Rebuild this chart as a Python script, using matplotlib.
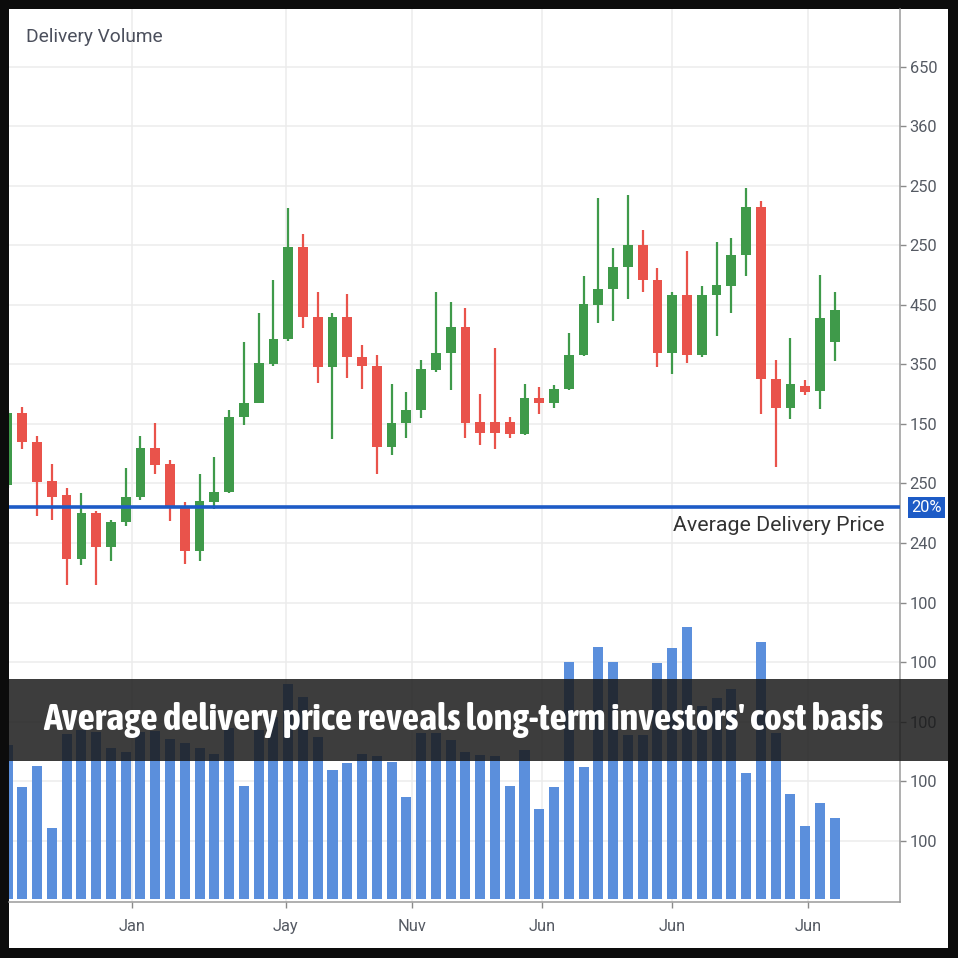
import matplotlib
matplotlib.use("Agg")
import numpy as np
from matplotlib import pyplot as plt
from matplotlib.patches import Rectangle

# weekly candles, index -1 is the one cut off at the left edge
opens = [69.8, 81.9, 77.0, 70.5, 68.0, 57.3, 65.1, 59.3, 63.5, 67.7, 75.9, 73.3, 65.8, 58.7,
         66.9, 68.6, 81.1, 83.6, 90.0, 94.3, 109.7, 98.0, 89.6, 98.0, 91.2, 89.8, 76.2, 80.1,
         82.4, 89.1, 91.9, 96.3, 80.3, 80.3, 80.3, 78.3, 84.3, 83.6, 85.8, 91.5, 100.0, 102.6,
         106.4, 110.0, 104.2, 92.0, 101.7, 91.5, 101.7, 103.2, 108.4, 116.5, 87.6, 82.6, 86.4,
         85.5, 93.7]
highs = [82.4, 82.8, 77.9, 73.2, 69.2, 68.4, 65.3, 63.9, 72.6, 77.9, 80.2, 74.0, 66.9, 71.6,
         74.5, 82.4, 93.8, 98.7, 104.1, 116.3, 111.9, 102.1, 98.6, 101.8, 93.2, 91.5, 86.7, 85.4,
         90.8, 102.1, 100.4, 99.5, 85.0, 92.8, 81.2, 86.7, 86.2, 86.6, 95.3, 104.9, 117.9, 109.6,
         118.5, 112.5, 106.2, 102.1, 109.1, 103.1, 110.5, 111.2, 119.7, 117.5, 90.8, 94.4, 87.3,
         105.0, 102.1]
lows = [69.3, 75.8, 64.5, 63.9, 53.0, 56.3, 53.0, 57.0, 62.9, 67.2, 71.6, 63.7, 56.4, 57.0,
        65.7, 68.4, 79.8, 83.5, 89.8, 94.0, 96.2, 86.8, 77.4, 87.8, 85.8, 71.6, 74.8, 77.7,
        81.0, 88.7, 85.7, 77.7, 76.4, 75.8, 77.7, 78.2, 81.6, 82.6, 85.7, 91.4, 96.9, 97.3,
        101.0, 102.2, 89.5, 88.4, 90.3, 91.2, 94.8, 98.6, 104.9, 81.7, 72.7, 80.8, 84.9,
        82.5, 90.6]
closes = [81.9, 76.9, 70.3, 67.7, 57.3, 65.1, 59.3, 63.6, 67.7, 75.9, 73.1, 66.1, 58.7, 67.1,
          68.5, 81.1, 83.6, 90.3, 94.3, 109.7, 98.0, 89.6, 98.0, 91.2, 89.8, 76.2, 80.2, 82.4,
          89.2, 91.9, 96.3, 80.1, 78.4, 78.4, 78.3, 84.3, 83.6, 85.8, 91.5, 100.1, 102.6, 106.4,
          110.0, 104.2, 92.0, 101.7, 91.5, 101.7, 103.4, 108.4, 116.5, 87.6, 82.6, 86.7, 85.4,
          97.8, 99.2]
volumes = [15.4, 11.2, 13.3, 7.1, 16.5, 16.9, 16.7, 15.1, 14.7, 16.7, 16.8, 16.0, 15.6, 15.1,
           14.5, 17.1, 11.3, 16.9, 18.2, 21.5, 20.2, 16.2, 12.9, 13.6, 14.5, 14.3, 13.7, 10.2,
           16.6, 16.6, 15.9, 14.7, 14.4, 14.3, 11.3, 14.9, 9.0, 11.2, 23.7, 13.2, 25.2, 23.7,
           16.4, 16.4, 23.6, 25.1, 27.2, 19.3, 20.1, 21.0, 12.6, 25.7, 16.6, 10.5, 7.3, 9.6, 8.1]

avg_delivery_price = 66.0
month_ticks = [7.43, 17.83, 26.41, 35.19, 44.01, 53.22]
month_labels = ["Jan", "Jay", "Nuv", "Jun", "Jun", "Jun"]
price_ticks = [10, 20, 30, 40, 50, 60, 70, 80, 90, 100, 110, 120, 130, 140]
price_labels = ["100", "100", "100", "100", "100", "240", "250", "150", "350", "450",
                "250", "250", "360", "650"]

GREEN = "#3f9a4a"
RED = "#e9534b"
BLUE_BAR = "#5b8fdc"
LINE_BLUE = "#1d5bc6"
TEXT_GREY = "#555a63"

plt.rcParams["font.family"] = ["Roboto", "DejaVu Sans"]

fig = plt.figure(figsize=(9.58, 9.58), dpi=100, facecolor="#0c0c0c")
fig.patches.append(Rectangle((9 / 958, 10 / 958), 939 / 958, 939 / 958,
                             transform=fig.transFigure, facecolor="white",
                             edgecolor="none", zorder=-10))

ax = fig.add_axes([9 / 958, 56 / 958, 891 / 958, 893 / 958])
ax.set_facecolor("white")
x = np.arange(-1, len(opens) - 1)
o = np.array(opens)
c = np.array(closes)
colors = np.where(c >= o, GREEN, RED)

ax.vlines(x, lows, highs, colors=colors, linewidth=1.6, zorder=3)
ax.bar(x, np.maximum(np.abs(c - o), 0.4), bottom=np.minimum(o, c), width=0.66,
       color=colors, zorder=4)

ax.axhline(avg_delivery_price, color=LINE_BLUE, linewidth=2.6, zorder=5)

# volume on its own scale, drawn in the same box
ax2 = ax.twinx()
ax2.bar(x, volumes, width=0.68, color=BLUE_BAR, zorder=2)
ax2.set_ylim(-0.3, 89.0)
ax2.set_yticks([])
for side in ["left", "top", "right", "bottom"]:
    ax2.spines[side].set_visible(False)

ax.set_xlim(-0.9, 59.42)
ax.set_ylim(-0.3, 149.7)
ax.set_xticks(month_ticks)
ax.set_xticklabels(month_labels)
ax.set_yticks(price_ticks)
ax.set_yticklabels(price_labels)
ax.yaxis.tick_right()
ax.tick_params(axis="y", length=4, width=1, color="#8a8a8a", pad=3,
               labelsize=11.8, labelcolor=TEXT_GREY)
ax.tick_params(axis="x", length=4, width=1, color="#8a8a8a", pad=8,
               labelsize=11.8, labelcolor=TEXT_GREY)
ax.grid(True, color="#ececec", linewidth=1.1, zorder=0)
ax.set_axisbelow(True)
for side in ["left", "top"]:
    ax.spines[side].set_visible(False)
for side in ["right", "bottom"]:
    ax.spines[side].set_color("#9a9a9a")
    ax.spines[side].set_linewidth(1.1)

ax.text(0.019, 0.9686, "Delivery Volume", transform=ax.transAxes, ha="left",
        va="center", fontsize=13.8, color="#4b4f5c")
ax.text(0.983, 63.0, "Average Delivery Price", transform=ax.get_yaxis_transform(),
        ha="right", va="center", fontsize=15.4, color="#333333")
ax.text(1.0297, avg_delivery_price, "20%", transform=ax.get_yaxis_transform(),
        ha="center", va="center", fontsize=11.8, color="white", clip_on=False, zorder=10,
        bbox=dict(boxstyle="square,pad=0.2", facecolor=LINE_BLUE, edgecolor="none"))

# headline banner across the lower part
fig.patches.append(Rectangle((9 / 958, 197 / 958), 939 / 958, 82 / 958,
                             transform=fig.transFigure, facecolor="#1b1b1b",
                             alpha=0.85, edgecolor="none", zorder=20))
fig.text(463 / 958, 238 / 958,
         "Average delivery price reveals long-term investors' cost basis",
         ha="center", va="center", color="white", fontsize=27.5, fontweight="bold",
         family=["Asap Condensed", "DejaVu Sans"], zorder=21)

fig.savefig("out.png", dpi=100, facecolor=fig.get_facecolor())
